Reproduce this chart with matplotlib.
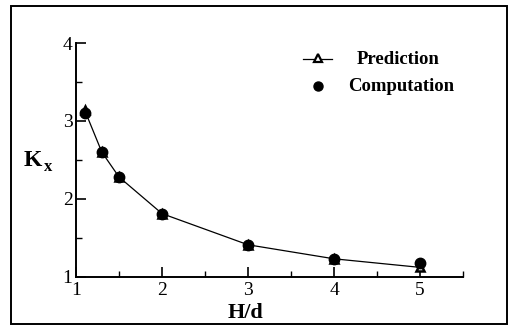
import matplotlib
matplotlib.use("Agg")
import matplotlib.pyplot as plt
from matplotlib.lines import Line2D
from matplotlib.patches import Rectangle

# Force coefficient K_x versus relative depth H/d
h_over_d = [1.1, 1.3, 1.5, 2.0, 3.0, 4.0, 5.0]
kx_prediction = [3.14, 2.60, 2.28, 1.81, 1.41, 1.23, 1.12]
kx_computation = [3.10, 2.60, 2.28, 1.81, 1.41, 1.23, 1.18]

x_ticks = [1, 2, 3, 4, 5]
y_ticks = [1, 2, 3, 4]

plt.rcParams["font.family"] = ["Liberation Serif", "DejaVu Serif"]

fig = plt.figure(figsize=(5.15, 3.31), dpi=100)
ax = fig.add_axes([0.1476, 0.164, 0.7515, 0.706])

ax.plot(h_over_d, kx_prediction, color="black", lw=0.9, marker="^",
        ms=5.5, mfc="white", mec="black", mew=1.8, zorder=2)
ax.plot(h_over_d, kx_computation, ls="none", marker="o", ms=7.5,
        color="black", zorder=3)

ax.set_xlim(1, 5.5)
ax.set_ylim(1, 4)
ax.set_xticks(x_ticks)
ax.set_yticks(y_ticks)
ax.set_xticks([1.5, 2.5, 3.5, 4.5, 5.5], minor=True)
ax.set_yticks([1.5, 2.5, 3.5], minor=True)
ax.tick_params(which="major", direction="in", length=7, width=1.2,
               labelsize=14)
ax.tick_params(axis="x", which="major", pad=3.5)
ax.tick_params(axis="y", which="major", pad=2.5)
ax.tick_params(which="minor", direction="in", length=4, width=1.0)
for side in ("top", "right"):
    ax.spines[side].set_visible(False)
for side in ("left", "bottom"):
    ax.spines[side].set_linewidth(1.4)

fig.text(0.046, 0.515, "K", fontsize=17, fontweight="bold", ha="left", va="center")
fig.text(0.086, 0.494, "x", fontsize=12, fontweight="bold", ha="left", va="center")
fig.text(0.476, 0.053, "H/d", fontsize=16, fontweight="bold", ha="center", va="center")

# Legend drawn in figure pixels
W, H = 515, 331
def fx(px):
    return px / W
def fy(py):
    return 1 - py / H

fig.add_artist(Line2D([fx(303), fx(332)], [fy(59), fy(59)], color="black", lw=0.9,
                      transform=fig.transFigure))
fig.add_artist(Line2D([fx(317.5)], [fy(58)], marker="^", ms=5.5, mfc="white",
                      mec="black", mew=1.6, transform=fig.transFigure))
fig.text(fx(357), fy(59), "Prediction", fontsize=13.5, fontweight="bold",
         ha="left", va="center")
fig.add_artist(Line2D([fx(318)], [fy(86)], marker="o", ms=6.5, color="black",
                      transform=fig.transFigure))
fig.text(fx(348), fy(86), "Computation", fontsize=13.5, fontweight="bold",
         ha="left", va="center")

# Outer frame
fig.add_artist(Rectangle((fx(11), fy(324)), fx(507) - fx(11), fy(6) - fy(324),
                         fill=False, ec="black", lw=1.4, transform=fig.transFigure))

fig.savefig("out.png", dpi=100)
